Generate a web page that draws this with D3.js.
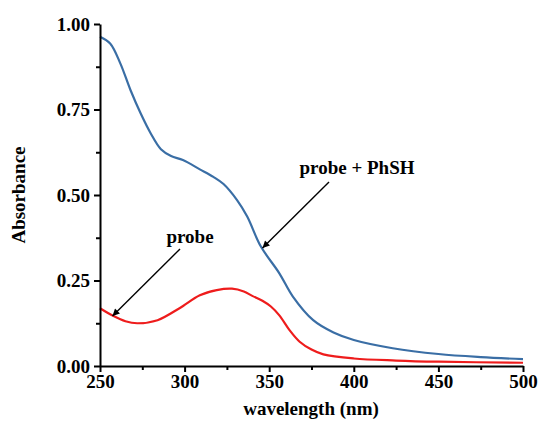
<!DOCTYPE html>
<html>
<head>
<meta charset="utf-8">
<script src="https://cdn.jsdelivr.net/npm/d3@7"></script>
<style>
    body { margin: 0; background: #fff; }
    svg text { font-family: "Liberation Serif", "Times New Roman", serif; font-weight: bold; }
</style>
</head>
<body>
<div id="chart"></div>
<script>
// wavelength (nm) and absorbance
const phshWl = [250, 256, 262, 268, 274, 280, 286, 292, 299, 309, 317, 323, 331, 337, 345, 356, 364, 376, 388, 400, 423, 450, 475, 500];
const phshAbs = [0.963, 0.943, 0.885, 0.807, 0.739, 0.680, 0.634, 0.614, 0.602, 0.575, 0.553, 0.532, 0.485, 0.437, 0.350, 0.271, 0.203, 0.134, 0.098, 0.076, 0.052, 0.035, 0.026, 0.020];

const probeWl = [250, 258, 265, 272, 284, 297, 309, 319, 328, 335, 340, 346, 351, 356, 362, 368, 375, 382, 400, 425, 450, 500];
const probeAbs = [0.169, 0.146, 0.131, 0.125, 0.134, 0.169, 0.207, 0.222, 0.226, 0.218, 0.205, 0.191, 0.174, 0.148, 0.105, 0.071, 0.048, 0.034, 0.022, 0.016, 0.0126, 0.0095];

const xTicks = [250, 300, 350, 400, 450, 500];
const xMinor = [275, 325, 375, 425, 475];
const yTicks = [0, 0.25, 0.5, 0.75, 1.0];
const yMinor = [0.125, 0.375, 0.625, 0.875];

const W = 539, H = 431;
const margin = { top: 24, right: 16, bottom: 65, left: 100 };
const fs = 19;

const svg = d3.select("#chart").append("svg")
    .attr("width", W)
    .attr("height", H);

const x = d3.scaleLinear().domain([250, 500]).range([margin.left, W - margin.right]);
const y = d3.scaleLinear().domain([0, 1]).range([H - margin.bottom, margin.top]);

// lines
const line = d3.line()
    .x(d => x(d[0]))
    .y(d => y(d[1]))
    .curve(d3.curveCatmullRom.alpha(0.5));

svg.append("path")
    .datum(d3.zip(probeWl, probeAbs))
    .attr("fill", "none")
    .attr("stroke", "#ee1c1c")
    .attr("stroke-width", 2.2)
    .attr("d", line);

svg.append("path")
    .datum(d3.zip(phshWl, phshAbs))
    .attr("fill", "none")
    .attr("stroke", "#3a6ea5")
    .attr("stroke-width", 2.2)
    .attr("d", line);

// axes
svg.append("g")
    .attr("transform", `translate(0, ${y(0)})`)
    .call(d3.axisBottom(x).tickValues(xTicks).tickSize(6).tickSizeOuter(0).tickPadding(3));
svg.append("g")
    .attr("transform", `translate(0, ${y(0)})`)
    .call(d3.axisBottom(x).tickValues(xMinor).tickSize(4).tickFormat("").tickSizeOuter(0))
    .select(".domain").remove();

svg.append("g")
    .attr("transform", `translate(${x(250)}, 0)`)
    .call(d3.axisLeft(y).tickValues(yTicks).tickFormat(d3.format(".2f")).tickSize(6).tickSizeOuter(0).tickPadding(4));
svg.append("g")
    .attr("transform", `translate(${x(250)}, 0)`)
    .call(d3.axisLeft(y).tickValues(yMinor).tickSize(4).tickFormat("").tickSizeOuter(0))
    .select(".domain").remove();

svg.selectAll(".domain").attr("stroke", "#000").attr("stroke-width", 2);
svg.selectAll(".tick line").attr("stroke", "#000").attr("stroke-width", 2);
svg.selectAll(".tick text").attr("font-size", fs).attr("fill", "#000")
    .style("font-family", "'Liberation Serif', serif").style("font-weight", "bold");

// axis titles
svg.append("text")
    .attr("x", 311)
    .attr("y", 415)
    .attr("text-anchor", "middle")
    .attr("font-size", fs)
    .text("wavelength (nm)");

svg.append("text")
    .attr("transform", `translate(25, ${(y(0) + y(1)) / 2}) rotate(-90)`)
    .attr("text-anchor", "middle")
    .attr("font-size", fs)
    .text("Absorbance");

// annotations
svg.append("defs").append("marker")
    .attr("id", "head")
    .attr("viewBox", "0 0 10 10")
    .attr("refX", 10)
    .attr("refY", 5)
    .attr("markerWidth", 9)
    .attr("markerHeight", 7)
    .attr("markerUnits", "userSpaceOnUse")
    .attr("orient", "auto")
    .append("path")
    .attr("d", "M0,0 L10,5 L0,10 Z")
    .attr("fill", "#000");

const notes = [
    { label: "probe", tx: 190, ty: 243, from: [180, 249], to: [112.5, 316] },
    { label: "probe + PhSH", tx: 357, ty: 174, from: [329, 182], to: [262.5, 248] }
];

notes.forEach(n => {
    svg.append("text")
        .attr("x", n.tx)
        .attr("y", n.ty)
        .attr("text-anchor", "middle")
        .attr("font-size", fs)
        .text(n.label);
    svg.append("line")
        .attr("x1", n.from[0]).attr("y1", n.from[1])
        .attr("x2", n.to[0]).attr("y2", n.to[1])
        .attr("stroke", "#000")
        .attr("stroke-width", 1.4)
        .attr("marker-end", "url(#head)");
});
</script>
</body>
</html>
